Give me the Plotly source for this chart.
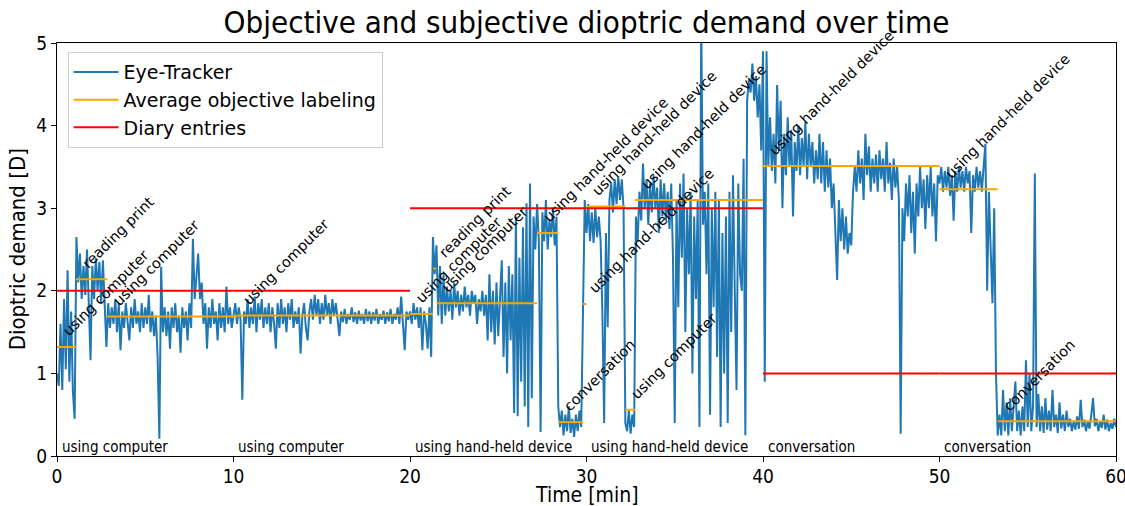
import numpy as np
import plotly.graph_objects as go

# ---------------- data ----------------
# Eye-tracker dioptric demand, one value every 0.1 min
et_00_10 = [1.0, 0.85, 1.6, 0.8, 1.9, 1.05, 2.25, 0.9, 1.75, 0.78,
            0.45, 2.65, 2.1, 2.45, 1.9, 2.3, 1.95, 2.5, 1.85, 1.16,
            2.3, 1.9, 2.4, 2.0, 2.35, 1.85, 2.37, 1.9, 1.32, 1.85,
            1.55, 1.8, 1.6, 1.9, 1.5, 1.85, 1.28, 1.75, 1.55, 1.85,
            1.6, 1.4, 1.8, 1.55, 1.9, 1.6, 1.75, 1.5, 1.85, 1.55,
            1.8, 1.6, 1.95, 1.5, 1.75, 1.45, 1.7, 1.2, 0.21, 2.29,
            1.5, 1.8, 1.45, 1.75, 1.3, 1.8, 1.55, 1.85, 1.5, 1.7,
            1.25, 1.8, 1.55, 1.75, 1.4, 1.85, 1.55, 2.63, 1.9, 2.2,
            2.45, 1.9, 2.1, 1.6, 1.85, 1.3, 1.8, 1.55, 1.9, 1.6,
            1.75, 1.4, 1.85, 1.55, 1.8, 1.5, 2.05, 1.6, 1.8, 1.55]
et_10_20 = [1.7, 1.85, 1.6, 1.8, 1.65, 0.68, 1.75, 1.6, 1.9, 1.55,
            1.8, 1.6, 1.93, 1.5, 1.85, 1.65, 1.9, 1.55, 1.8, 1.6,
            1.85, 1.5, 1.8, 1.6, 1.3, 1.85, 1.55, 1.9, 1.6, 1.8,
            1.5, 1.85, 1.65, 1.9, 1.55, 1.75, 1.6, 1.8, 1.24, 1.7,
            1.85, 1.55, 1.4, 1.75, 1.9, 1.65, 1.95, 1.7, 1.9, 1.6,
            1.85, 1.65, 1.95, 1.7, 1.85, 1.6, 1.9, 1.7, 1.85, 1.65,
            1.45, 1.75, 1.62, 1.78, 1.6, 1.72, 1.65, 1.8, 1.62, 1.74,
            1.6, 1.76, 1.64, 1.72, 1.6, 1.78, 1.63, 1.75, 1.6, 1.74,
            1.64, 1.78, 1.6, 1.72, 1.65, 1.76, 1.6, 1.74, 1.63, 1.78,
            1.6, 1.72, 1.65, 1.8, 1.6, 1.93, 1.62, 1.28, 1.75, 1.65]
et_20_30 = [1.75, 1.6, 1.85, 1.65, 1.8, 1.55, 1.8, 1.28, 1.75, 1.6,
            1.3, 1.8, 1.2, 2.65, 2.2, 2.55, 1.7, 2.3, 1.6, 2.2,
            1.7, 2.05, 1.75, 2.0, 1.65, 2.1, 1.8, 2.0, 1.7, 1.95,
            1.75, 2.05, 1.8, 1.95, 1.7, 2.0, 1.85, 1.95, 1.6, 1.9,
            1.75, 2.0, 1.7, 1.95, 1.4, 2.2, 1.5, 2.0, 1.35, 2.1,
            1.45, 2.0, 2.37, 1.2, 2.1, 1.0, 2.3, 1.4, 2.2, 0.52,
            2.9, 0.48, 2.4, 0.9, 2.77, 0.6, 3.06, 0.35, 3.3, 0.7,
            2.9, 2.5, 3.05, 2.6, 0.29, 2.95, 2.6, 3.1, 2.5, 2.85,
            2.65, 3.0, 2.55, 2.9, 0.6, 0.35, 0.55, 0.25, 0.5, 0.3,
            0.6, 0.28, 0.45, 0.23, 0.5, 0.3, 0.55, 0.35, 1.8, 3.1]
et_30_40 = [2.7, 3.05, 2.6, 2.95, 2.58, 3.0, 2.65, 2.9, 2.6, 1.73,
            0.4, 2.7, 1.56, 3.1, 3.3, 2.95, 3.35, 3.05, 3.39, 3.1,
            3.35, 3.0, 0.4, 0.3, 0.55, 0.27, 0.5, 0.35, 2.9, 2.6,
            3.2, 2.85, 3.54, 3.0, 3.35, 2.8, 3.3, 2.95, 3.4, 3.0,
            3.25, 2.7, 3.35, 2.9, 3.3, 2.85, 3.2, 2.75, 3.3, 2.4,
            0.4, 3.1, 1.8, 3.3, 2.4, 3.42, 1.5, 3.0, 2.2, 3.2,
            1.0, 2.9, 1.9, 3.1, 0.35, 5.3, 2.8, 3.2, 2.2, 3.3,
            0.5, 3.0, 1.8, 3.2, 1.2, 3.1, 0.35, 2.7, 1.0, 2.9,
            0.4, 3.2, 1.5, 3.4, 2.0, 0.8, 3.3, 2.2, 2.0, 3.6,
            0.25, 4.3, 4.55, 4.4, 4.75, 4.3, 4.6, 4.1, 4.5, 3.7]
et_40_50 = [4.9, 0.9, 4.9, 3.5, 4.1, 3.45, 3.9, 3.3, 4.49, 3.7,
            4.3, 3.0, 3.9, 3.4, 4.1, 3.5, 3.95, 2.9, 3.8, 3.45,
            4.0, 3.4, 3.85, 3.5, 4.05, 3.35, 3.9, 3.5, 3.8, 3.3,
            3.7, 3.35, 3.9, 3.3, 3.8, 3.2, 3.7, 3.25, 3.6, 3.0,
            3.3, 2.8, 2.13, 3.1, 2.6, 3.0, 2.5, 2.9, 2.45, 2.7,
            2.55, 3.2, 3.5, 3.2, 3.7, 3.3, 3.6, 3.1, 3.9, 3.4,
            3.75, 3.2, 3.6, 3.3, 3.65, 3.2, 3.7, 3.35, 3.6, 3.2,
            3.8, 3.3, 3.55, 3.1, 3.6, 3.25, 3.5, 3.1, 0.27, 3.0,
            2.6, 3.3, 2.9, 3.4, 2.7, 3.2, 2.45, 3.3, 2.9, 3.5,
            3.0, 3.35, 2.75, 3.4, 3.0, 3.5, 2.9, 3.3, 2.6, 3.4]
et_50_60 = [3.3, 3.5, 3.2, 3.45, 3.25, 3.5, 3.15, 3.4, 2.85, 3.45,
            3.2, 3.5, 3.25, 3.45, 3.2, 3.5, 3.3, 3.45, 2.7, 3.4,
            3.2, 3.5, 3.25, 3.45, 3.2, 3.5, 3.78, 2.0, 3.2, 2.5,
            1.85, 3.0, 1.0, 0.25, 0.5, 0.25, 0.8, 0.3, 0.65, 0.25,
            0.7, 0.3, 0.6, 0.9, 0.3, 0.55, 0.25, 0.6, 0.3, 1.16,
            0.35, 1.0, 0.3, 0.6, 3.42, 0.35, 0.75, 0.3, 0.6, 0.28,
            0.7, 0.32, 0.55, 0.3, 0.8, 0.35, 0.5, 0.28, 0.65, 0.33,
            0.5, 0.3, 0.55, 0.35, 0.45, 0.3, 0.42, 0.32, 0.48, 0.33,
            0.68, 0.35, 0.44, 0.3, 0.42, 0.33, 0.5, 0.7, 0.36, 0.45,
            0.3, 0.42, 0.34, 0.5, 0.32, 0.44, 0.3, 0.4, 0.33, 0.45,
            0.35]

# Average objective labeling segments
label_start = [0.0, 1.07, 2.85, 10.2, 20.0, 21.3, 21.5, 27.2, 28.4, 29.8,
               30.0, 32.2, 32.75, 40.0, 50.0, 53.3]
label_end = [1.07, 2.85, 10.2, 20.0, 21.3, 21.5, 27.2, 28.4, 29.8, 30.0,
             32.2, 32.75, 40.0, 50.0, 53.3, 60.0]
label_value = [1.32, 2.14, 1.69, 1.70, 1.72, 2.27, 1.85, 2.70, 0.41, 1.84,
               3.02, 0.56, 3.10, 3.51, 3.23, 0.42]
label_text = ["using computer", "reading print", "using computer", "using computer",
              "using computer", "reading print", "using computer",
              "using hand-held device", "conversation", "using hand-held device",
              "using hand-held device", "using computer", "using hand-held device",
              "using hand-held device", "using hand-held device", "conversation"]

# Diary entries
diary_start = [0, 10, 20, 30, 40, 50]
diary_end = [10, 20, 30, 40, 50, 60]
diary_value = [2.0, 2.0, 3.0, 3.0, 1.0, 1.0]
diary_text = ["using computer", "using computer", "using hand-held device",
              "using hand-held device", "conversation", "conversation"]

x_ticks = [0, 10, 20, 30, 40, 50, 60]
y_ticks = [0, 1, 2, 3, 4, 5]

# ---------------- figure ----------------
eye = et_00_10 + et_10_20 + et_20_30 + et_30_40 + et_40_50 + et_50_60
t = np.round(np.arange(len(eye)) * 0.1, 2)

ox, oy = [], []
for s, e, v in zip(label_start, label_end, label_value):
    ox += [s, e, None]
    oy += [v, v, None]
dx, dy = [], []
for s, e, v in zip(diary_start, diary_end, diary_value):
    dx += [s, e, None]
    dy += [v, v, None]

BASE = "DejaVu Sans"
COND = "DejaVu Sans Condensed, Liberation Sans Narrow, DejaVu Sans"

fig = go.Figure()
fig.add_trace(go.Scatter(x=t, y=eye, mode="lines", name="Eye-Tracker",
                         line=dict(color="#1f77b4", width=2)))
fig.add_trace(go.Scatter(x=ox, y=oy, mode="lines", name="Average objective labeling",
                         line=dict(color="#FFA500", width=2)))
fig.add_trace(go.Scatter(x=dx, y=dy, mode="lines", name="Diary entries",
                         line=dict(color="#FF0000", width=2)))

annotations = []
for s, v, txt in zip(label_start, label_value, label_text):
    annotations.append(dict(x=s, y=v, xref="x", yref="y", text=txt, showarrow=False,
                            textangle=-45, xanchor="left", yanchor="bottom", yshift=5,
                            font=dict(family=BASE, size=14.5, color="black")))
for s, txt in zip(diary_start, diary_text):
    annotations.append(dict(x=s + 0.15, y=0.11, xref="x", yref="y", text=txt, showarrow=False,
                            xanchor="left", yanchor="middle",
                            font=dict(family=COND, size=15, color="black")))
annotations.append(dict(x=0.5, y=-0.095, xref="paper", yref="paper", text="Time [min]",
                        showarrow=False, xanchor="center", yanchor="middle",
                        font=dict(family=COND, size=21, color="black")))
annotations.append(dict(x=-0.037, y=0.5, xref="paper", yref="paper", text="Dioptric demand [D]",
                        showarrow=False, xanchor="center", yanchor="middle", textangle=-90,
                        font=dict(family=COND, size=22, color="black")))

fig.update_layout(
    width=1125, height=506,
    margin=dict(l=57, r=9, t=43, b=50, autoexpand=False),
    paper_bgcolor="white", plot_bgcolor="white",
    title=dict(text="Objective and subjective dioptric demand over time",
               x=0.5, xref="paper", y=1 - 22 / 506, yref="container",
               xanchor="center", yanchor="middle",
               font=dict(family=COND, size=31, color="black")),
    showlegend=True,
    legend=dict(x=0.01, y=0.978, xanchor="left", yanchor="top", itemwidth=45,
                bgcolor="rgba(255,255,255,0.8)", bordercolor="#cccccc", borderwidth=1,
                font=dict(family=BASE, size=19, color="black")),
    annotations=annotations,
)
fig.update_xaxes(range=[0, 60], tickvals=x_ticks, ticks="outside", ticklen=5,
                 tickcolor="black", showline=True, linecolor="black", linewidth=1,
                 mirror=True, showgrid=False, zeroline=False, ticklabeloverflow="allow",
                 automargin=False, ticklabelstandoff=-2,
                 tickfont=dict(family=COND, size=19, color="black"))
fig.update_yaxes(range=[0, 5], tickvals=y_ticks, ticks="outside", ticklen=5,
                 tickcolor="black", showline=True, linecolor="black", linewidth=1,
                 mirror=True, showgrid=False, zeroline=False, ticklabeloverflow="allow",
                 automargin=False,
                 tickfont=dict(family=COND, size=19, color="black"))

fig.write_html("out.html")
